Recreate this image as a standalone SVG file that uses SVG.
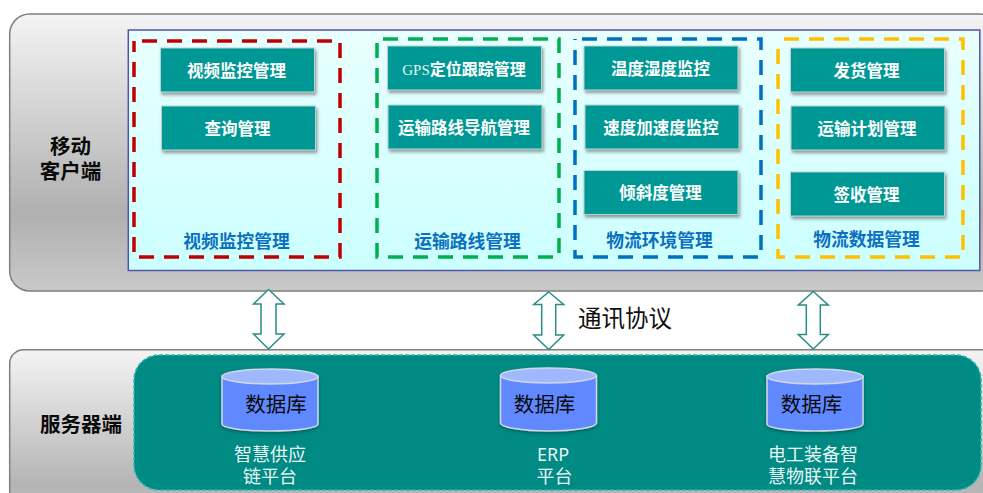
<svg xmlns="http://www.w3.org/2000/svg" width="983" height="493" viewBox="0 0 983 493">
<style>
text{font-family:"Microsoft YaHei","Noto Sans CJK SC","Noto Sans",sans-serif;text-anchor:middle}
.panel{stroke:#7f7f7f;stroke-width:1.5}
.box{fill:#009894;stroke:#b9d2d0;stroke-width:1;filter:url(#sh)}
.bt{fill:#fff;font-size:16.5px;font-weight:700}
.gt{fill:#0b70c0;font-size:17.8px;font-weight:700}
.side{fill:#0a0a0a;font-size:20.5px;font-weight:700}
.zone{fill:none;stroke-width:3.5;stroke-dasharray:15 10}
.arrow{fill:#fff;stroke:#2b8b8b;stroke-width:1.5;stroke-linejoin:miter}
.cb{fill:#6088ff;stroke:#d3d8e4;stroke-width:1.5;filter:url(#sh2)}
.ct{fill:#a0b8ff;stroke:#d3d8e4;stroke-width:1.5}
.dbt{fill:#0a0a0a;font-size:20.5px}
.pt{fill:#e8f6f5;font-size:18px}
</style>
<defs>
<linearGradient id="pg" x1="0" y1="0" x2="0" y2="1"><stop offset="0" stop-color="#f4f4f4"/><stop offset=".72" stop-color="#b0b0b0"/><stop offset="1" stop-color="#c9c9c9"/></linearGradient>
<linearGradient id="pg2" x1="0" y1="0" x2="0" y2="1"><stop offset="0" stop-color="#f4f4f4"/><stop offset=".8" stop-color="#b4b4b4"/><stop offset="1" stop-color="#c4c4c4"/></linearGradient>
<linearGradient id="ig" x1="0" y1="0" x2="0" y2="1"><stop offset="0" stop-color="#e9ffff"/><stop offset="1" stop-color="#ccffff"/></linearGradient>
<filter id="sh" x="-10%" y="-20%" width="125%" height="150%"><feDropShadow dx="1.5" dy="2.5" stdDeviation="1.5" flood-color="#555" flood-opacity=".6"/></filter>
<filter id="sh2" x="-10%" y="-10%" width="120%" height="125%"><feDropShadow dx="0" dy="1.5" stdDeviation="1.5" flood-color="#033" flood-opacity=".5"/></filter>
</defs>

<g id="client">
<rect class="panel" x="9.700" y="14" width="990" height="277" rx="20" fill="url(#pg)"/>
<text class="side" x="70.500" y="154">移动</text>
<text class="side" x="70.500" y="179">客户端</text>
<rect x="128.300" y="30" width="851.500" height="240.500" fill="url(#ig)" stroke="#4f55a8" stroke-width="1.500"/>
</g>

<g id="server">
<rect class="panel" x="9.700" y="349.700" width="990" height="170" rx="14" fill="url(#pg2)"/>
<text class="side" x="81" y="432">服务器端</text>
<rect x="134" y="355" width="847" height="135" rx="25" fill="#008a84" stroke="#25b8b0" stroke-width="1.500" stroke-dasharray="4 2"/>
</g>

<g id="zone-video">
<rect class="zone" x="134" y="41" width="206" height="216" stroke="#c00000" stroke-dashoffset="17"/>
<text class="gt" x="236.500" y="247.500">视频监控管理</text>
</g>
<g id="zone-route">
<rect class="zone" x="377" y="39" width="182" height="218" stroke="#00b050" stroke-dashoffset="19"/>
<text class="gt" x="467.500" y="247.500">运输路线管理</text>
</g>
<g id="zone-env">
<rect class="zone" x="575" y="39" width="186" height="218" stroke="#0070c0" stroke-dashoffset="18"/>
<text class="gt" x="659.500" y="246.500">物流环境管理</text>
</g>
<g id="zone-data">
<rect class="zone" x="778" y="39" width="185" height="218" stroke="#ffc000" stroke-dashoffset="19"/>
<text class="gt" x="866.500" y="245.500">物流数据管理</text>
</g>

<g id="n-video"><rect class="box" x="160.500" y="48" width="154" height="44"/><text class="bt" x="236.500" y="77">视频监控管理</text></g>
<g id="n-query"><rect class="box" x="161.500" y="106" width="154" height="44"/><text class="bt" x="237.500" y="135">查询管理</text></g>
<g id="n-gps"><rect class="box" x="387.500" y="46" width="154" height="44"/><text class="bt" x="464" y="75" font-size="16"><tspan style="font-family:'Liberation Serif',serif;font-weight:400;font-size:15px" fill="#e4f2f1">GPS</tspan><tspan style="font-size:16px">定位跟踪管理</tspan></text></g>
<g id="n-nav"><rect class="box" x="388" y="105" width="154" height="44"/><text class="bt" x="464" y="134">运输路线导航管理</text></g>
<g id="n-temp"><rect class="box" x="584" y="46" width="154" height="44"/><text class="bt" x="660.500" y="75">温度湿度监控</text></g>
<g id="n-speed"><rect class="box" x="585" y="105" width="154" height="44"/><text class="bt" x="661" y="134">速度加速度监控</text></g>
<g id="n-tilt"><rect class="box" x="584" y="170.500" width="154" height="44"/><text class="bt" x="660.500" y="199">倾斜度管理</text></g>
<g id="n-ship"><rect class="box" x="790.500" y="48" width="154" height="44"/><text class="bt" x="866.500" y="77">发货管理</text></g>
<g id="n-plan"><rect class="box" x="791" y="106" width="154" height="44"/><text class="bt" x="867" y="135">运输计划管理</text></g>
<g id="n-sign"><rect class="box" x="790.500" y="172" width="154" height="44"/><text class="bt" x="866.500" y="201">签收管理</text></g>

<g id="db-supply">
<path class="cb" d="M222 376V424C222 428 243 431 270 431S318 428 318 424V376Z"/>
<ellipse class="ct" cx="270" cy="376.500" rx="48" ry="7.500"/>
<text class="dbt" x="276" y="412">数据库</text>
<text class="pt" x="270" y="460.500">智慧供应</text>
<text class="pt" x="270" y="482.500">链平台</text>
</g>
<g id="db-erp">
<path class="cb" d="M500.500 376V423C500.500 427 521 431 548.500 431S596.500 427 596.500 423V376Z"/>
<ellipse class="ct" cx="548.500" cy="375.500" rx="48" ry="7.500"/>
<text class="dbt" x="544.500" y="412">数据库</text>
<text class="pt" x="553" y="461" style="font-family:'Noto Sans',sans-serif">ERP</text>
<text class="pt" x="554.500" y="483">平台</text>
</g>
<g id="db-iot">
<path class="cb" d="M767 376V424C767 428 788 431 815 431S863 428 863 424V376Z"/>
<ellipse class="ct" cx="815" cy="376.500" rx="48" ry="7.500"/>
<text class="dbt" x="811.500" y="412">数据库</text>
<text class="pt" x="813" y="461">电工装备智</text>
<text class="pt" x="813" y="483">慧物联平台</text>
</g>

<g id="connectors">
<polygon class="arrow" points="268.500,289.500 284,304 276,304 276,334 284,334 268.500,349 253.500,334 261,334 261,304 253.500,304"/>
<polygon class="arrow" points="548.700,292 563.700,304.500 555.700,304.500 555.700,335 563.700,335 548.700,349.500 533.700,335 541.700,335 541.700,304.500 533.700,304.500"/>
<polygon class="arrow" points="813.300,291.500 828.300,305 820.300,305 820.300,334.500 828.300,334.500 813.300,349 798.300,334.500 806.300,334.500 806.300,305 798.300,305"/>
</g>

<text x="625" y="327" fill="#111" font-size="23.500">通讯协议</text>
</svg>
